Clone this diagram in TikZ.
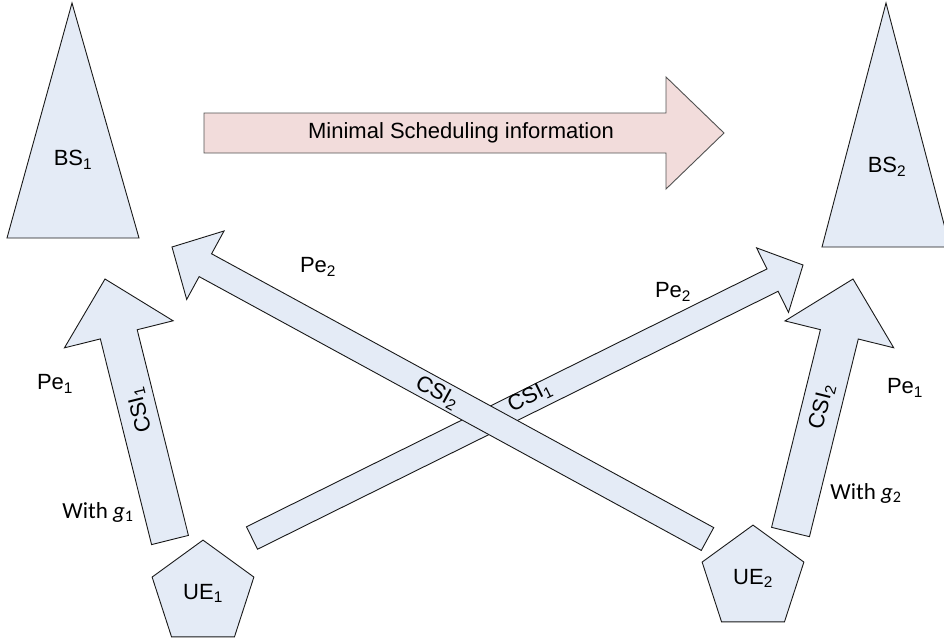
\documentclass[tikz,border=0pt]{standalone}
\usepackage{fontspec}
\setmainfont{Liberation Sans}
\newfontfamily\calfont{Carlito}
\usetikzlibrary{calc,shapes.geometric}
\definecolor{boxblue}{RGB}{228,235,246}
\definecolor{boxpink}{RGB}{242,220,219}
\definecolor{edgecol}{RGB}{25,25,25}
% #1 tail, #2 tip, #3 shaft half width, #4 head half width, #5 head length, #6 style
\newcommand{\blockarrow}[6]{%
  \coordinate (ba-hb) at ($(#2)!#5!(#1)$);
  \draw[#6] ($(#1)!#3!90:(#2)$) -- ($(ba-hb)!#3!-90:(#1)$) -- ($(ba-hb)!#4!-90:(#1)$)
     -- (#2) -- ($(ba-hb)!#4!90:(#1)$) -- ($(ba-hb)!#3!90:(#1)$)
     -- ($(#1)!#3!-90:(#2)$) -- cycle;
}
\begin{document}
\begin{tikzpicture}[x=1pt,y=-1pt,
  lbl/.style={font=\fontsize{22}{26}\selectfont, inner sep=0pt},
  cal/.style={font=\calfont\fontsize{23}{27}\selectfont, inner sep=0pt},
  bsshape/.style={fill=boxblue, draw=edgecol, line width=0.9pt, line join=miter},
  blueblock/.style={fill=boxblue, draw=edgecol, line width=0.9pt, line join=miter},
  pinkblock/.style={fill=boxpink, draw=edgecol!75, line width=0.9pt, line join=miter},
  uenode/.style={regular polygon, regular polygon sides=5, minimum size=107pt, inner sep=0pt,
     fill=boxblue, draw=edgecol, line width=0.9pt, font=\fontsize{22}{26}\selectfont}]
\path[use as bounding box] (0,0) rectangle (944,641);
\clip (0,0) rectangle (944,641);

% base stations
\draw[bsshape] (72,3) -- (7,238) -- (139,238) -- cycle;
\draw[bsshape] (886,3) -- (822,247) -- (950,247) -- cycle;
\node[lbl] (bs1) at (73,160) {BS\textsubscript{1}};
\node[lbl] (bs2) at (887,167) {BS\textsubscript{2}};

% coordinates of arrow ends
\coordinate (tM) at (204,133); \coordinate (hM) at (724,133);
\coordinate (t1) at (170,540); \coordinate (h1) at (105,279);
\coordinate (t2) at (790.5,532); \coordinate (h2) at (853,279);
\coordinate (tA) at (252,538); \coordinate (hA) at (803,265);
\coordinate (tB) at (707.5,539); \coordinate (hB) at (172,247);

% scheduling arrow
\blockarrow{tM}{hM}{20pt}{56pt}{58pt}{pinkblock}
\node[lbl] (msi) at (461,133) {Minimal Scheduling information};

% CSI arrows
\blockarrow{t1}{h1}{19pt}{56pt}{57pt}{blueblock}
\blockarrow{t2}{h2}{19.5pt}{56pt}{57pt}{blueblock}
\blockarrow{tA}{hA}{12.5pt}{36pt}{34pt}{blueblock}
\blockarrow{tB}{hB}{13pt}{39pt}{38pt}{blueblock}

\node[lbl, rotate=104] (csi1a) at (140,410) {CSI\textsubscript{1}};
\node[lbl, rotate=76] (csi2a) at (822,407) {CSI\textsubscript{2}};
\node[lbl, rotate=-28.6] (csi2b) at (437,393) {CSI\textsubscript{2}};
\node[lbl, rotate=26.4] (csi1b) at (530,397) {CSI\textsubscript{1}};

% user equipment
\node[uenode] (ue1) at (203,593.6) {UE\textsubscript{1}};
\node[uenode] (ue2) at (753,578.6) {UE\textsubscript{2}};

% labels
\node[lbl] (pe2l) at (318,267) {Pe\textsubscript{2}};
\node[lbl] (pe2r) at (673,292) {Pe\textsubscript{2}};
\node[lbl] (pe1l) at (55,384) {Pe\textsubscript{1}};
\node[lbl] (pe1r) at (905,388) {Pe\textsubscript{1}};
\node[cal] (wg1) at (98,512) {With \textit{g}\textsubscript{1}};
\node[cal] (wg2) at (866,493) {With \textit{g}\textsubscript{2}};
\end{tikzpicture}
\end{document}
